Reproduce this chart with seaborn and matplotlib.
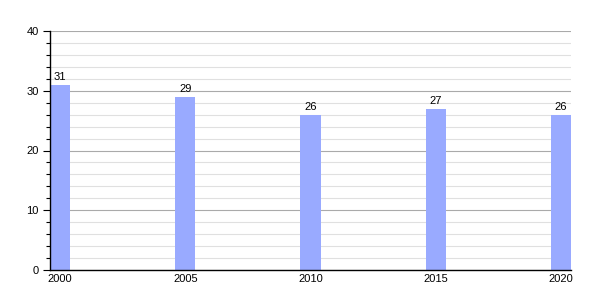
import matplotlib
matplotlib.use("Agg")
import matplotlib.pyplot as plt
import seaborn as sns
import pandas as pd
from matplotlib.ticker import MultipleLocator

years = ["2000", "2005", "2010", "2015", "2020"]
values = [31, 29, 26, 27, 26]

sns.set_theme(style="white")
plt.rcParams['font.family'] = ['Liberation Sans', 'DejaVu Sans']

df = pd.DataFrame({"year": years, "value": values})

fig = plt.figure(figsize=(6, 3), dpi=100)
ax = fig.add_axes([50/600, 30/300, 521/600, 239/300])

sns.barplot(data=df, x="year", y="value", width=0.16, color="#99AAFF",
            saturation=1, linewidth=0, edgecolor="none", ax=ax, zorder=3)

ax.set_xlim(-0.08, 4.08)
ax.set_ylim(0, 40)
ax.yaxis.set_major_locator(MultipleLocator(10))
ax.yaxis.set_minor_locator(MultipleLocator(2))
ax.grid(which="major", axis="y", color="#aaaaaa", linewidth=0.8, zorder=0)
ax.grid(which="minor", axis="y", color="#e0e0e0", linewidth=0.8, zorder=0)
ax.set_axisbelow(True)

for s in ["top", "right"]:
    ax.spines[s].set_visible(False)
for s in ["left", "bottom"]:
    ax.spines[s].set_color("black")
    ax.spines[s].set_linewidth(1)
    ax.spines[s].set_zorder(4)

ax.tick_params(axis="y", which="major", direction="out", length=5, width=0.8,
               color="black", labelcolor="black", labelsize=8, pad=3, left=True)
ax.tick_params(axis="y", which="minor", direction="out", length=3, width=0.8,
               color="black", left=True)
ax.tick_params(axis="x", length=0, labelsize=8, labelcolor="black", pad=3)

ax.set_xlabel("")
ax.set_ylabel("")

for c in ax.containers:
    ax.bar_label(c, labels=[str(v) for v in values], fontsize=8, padding=2,
                 color="black")

fig.savefig("out.png", dpi=100)
